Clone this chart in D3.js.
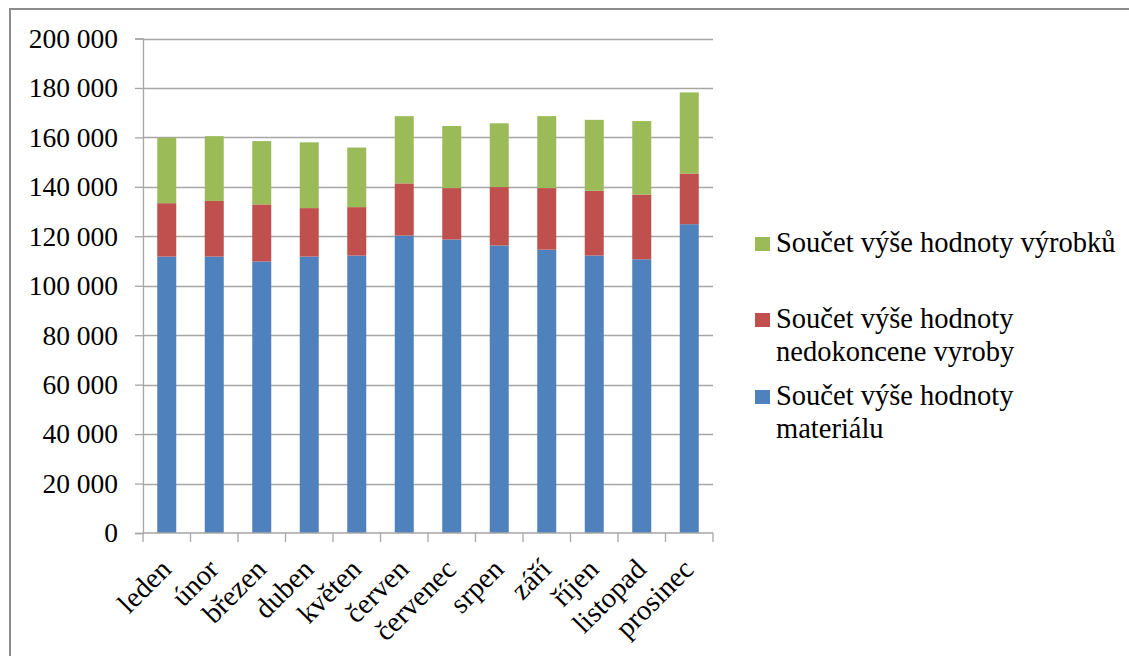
<!DOCTYPE html>
<html>
<head>
<meta charset="utf-8">
<script src="https://cdn.jsdelivr.net/npm/d3@7"></script>
<style>
  html, body { margin: 0; padding: 0; background: #fff; }
  svg { display: block; }
  text { font-family: "Liberation Serif", "Times New Roman", serif; fill: #000; }
</style>
</head>
<body>
<svg id="chart" width="1129" height="656"></svg>
<script>
// Monthly values (CZK)
const months = ["leden", "únor", "březen", "duben", "květen", "červen",
                "červenec", "srpen", "září", "říjen", "listopad", "prosinec"];
const material = [111800, 111800, 109800, 111800, 112200, 120300, 118700, 116300, 114600, 112200, 110700, 124900];
const nedokoncene = [21600, 22500, 23100, 19600, 19600, 21100, 20800, 23600, 24900, 26200, 26200, 20500];
const vyrobky = [26500, 26200, 25600, 26600, 24100, 27200, 25100, 25800, 29100, 28700, 29700, 32800];
const yTicks = [0, 20000, 40000, 60000, 80000, 100000, 120000, 140000, 160000, 180000, 200000];

const seriesNames = {
  material: ["Součet výše hodnoty", "materiálu"],
  nedokoncene: ["Součet výše hodnoty", "nedokoncene vyroby"],
  vyrobky: ["Součet výše hodnoty výrobků"]
};
const colors = { material: "#4f81bd", nedokoncene: "#c0504d", vyrobky: "#9bbb59" };

const rows = months.map((m, i) => ({
  month: m, material: material[i], nedokoncene: nedokoncene[i], vyrobky: vyrobky[i]
}));
const keys = ["material", "nedokoncene", "vyrobky"];
const stacked = d3.stack().keys(keys)(rows);

const serif = "'Liberation Serif', 'Times New Roman', serif";
const svg = d3.select("#chart");

// outer frame (top and left edges)
svg.append("path")
  .attr("d", "M10,656 V9 H1129")
  .attr("fill", "none")
  .attr("stroke", "#8c8c8c")
  .attr("stroke-width", 2);

const plot = { left: 143, right: 713, top: 38.5, bottom: 533 };

const x = d3.scaleBand().domain(months).range([plot.left, plot.right]).paddingInner(0.6).paddingOuter(0.3);
const xb = d3.scaleBand().domain(months).range([plot.left, plot.right]);
const y = d3.scaleLinear().domain([0, 200000]).range([plot.bottom, plot.top]);

const fmt = v => d3.format(",")(v).replace(/,/g, " ");

// horizontal gridlines
svg.append("g")
  .selectAll("line")
  .data(yTicks.filter(t => t > 0))
  .join("line")
  .attr("x1", plot.left).attr("x2", plot.right)
  .attr("y1", d => Math.round(y(d)) + 0.5).attr("y2", d => Math.round(y(d)) + 0.5)
  .attr("stroke", "#a6a6a6").attr("stroke-width", 1.3);

// stacked bars
svg.append("g")
  .selectAll("g")
  .data(stacked)
  .join("g")
  .attr("fill", d => colors[d.key])
  .selectAll("rect")
  .data(d => d)
  .join("rect")
  .attr("x", d => x(d.data.month))
  .attr("width", x.bandwidth())
  .attr("y", d => y(d[1]))
  .attr("height", d => y(d[0]) - y(d[1]));

// y axis
const yAxis = svg.append("g")
  .attr("transform", `translate(${plot.left},0)`)
  .call(d3.axisLeft(y).tickValues(yTicks).tickFormat(fmt).tickSize(8).tickPadding(17));
yAxis.attr("font-family", null).attr("font-size", null);
yAxis.select(".domain").attr("stroke", "#a6a6a6").attr("stroke-width", 1.3);
yAxis.selectAll(".tick line").attr("stroke", "#a6a6a6").attr("stroke-width", 1.3);
yAxis.selectAll(".tick text")
  .style("font-family", serif)
  .style("font-size", "27.5px")
  .attr("fill", "#000");

// x axis: baseline, boundary ticks and rotated labels
const xAxis = svg.append("g");
xAxis.append("line")
  .attr("x1", plot.left).attr("x2", plot.right)
  .attr("y1", plot.bottom).attr("y2", plot.bottom)
  .attr("stroke", "#a6a6a6").attr("stroke-width", 1.3);
const bounds = months.map(m => xb(m)).concat([plot.right]);
xAxis.selectAll("line.tick")
  .data(bounds)
  .join("line")
  .attr("class", "tick")
  .attr("x1", d => d).attr("x2", d => d)
  .attr("y1", plot.bottom).attr("y2", plot.bottom + 9)
  .attr("stroke", "#a6a6a6").attr("stroke-width", 1.3);
xAxis.selectAll("text")
  .data(months)
  .join("text")
  .attr("transform", m => `translate(${xb(m) + xb.bandwidth() / 2 + 6},${plot.bottom + 38}) rotate(-45)`)
  .attr("text-anchor", "end")
  .style("font-family", serif)
  .style("font-size", "28.5px")
  .text(m => m);

// legend
const legendItems = [
  { key: "vyrobky", y: 252 },
  { key: "nedokoncene", y: 328 },
  { key: "material", y: 405 }
];
const legend = svg.append("g");
legendItems.forEach(it => {
  legend.append("rect")
    .attr("x", 755).attr("y", it.y - 15).attr("width", 15).attr("height", 14)
    .attr("fill", colors[it.key]);
  const t = legend.append("text")
    .attr("x", 776).attr("y", it.y)
    .style("font-family", serif)
    .style("font-size", "28.5px");
  seriesNames[it.key].forEach((line, i) => {
    t.append("tspan").attr("x", 776).attr("dy", i === 0 ? 0 : 33).text(line);
  });
});
</script>
</body>
</html>
